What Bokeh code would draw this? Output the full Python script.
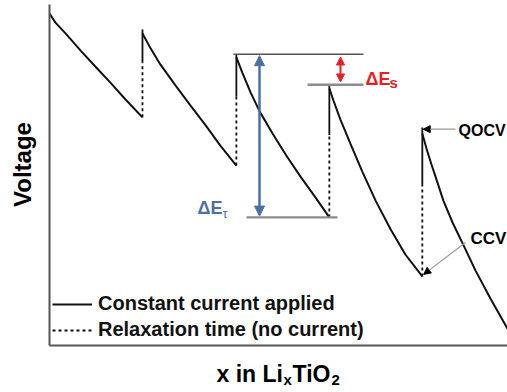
from bokeh.plotting import figure
from bokeh.models import (Range1d, Label, Arrow, NormalHead, FixedTicker,
                          Legend, LegendItem)
from bokeh.embed import file_html
from bokeh.resources import INLINE

# ---- data (schematic GITT curve; x in LixTiO2 and voltage in arbitrary units) ----
seg1_x = [0.000, 0.013, 0.035, 0.068, 0.100, 0.133, 0.166, 0.203]
seg1_v = [0.985, 0.958, 0.926, 0.875, 0.828, 0.780, 0.730, 0.677]
seg2_x = [0.203, 0.221, 0.242, 0.275, 0.308, 0.341, 0.373, 0.408]
seg2_v = [0.926, 0.881, 0.834, 0.772, 0.712, 0.653, 0.593, 0.534]
seg3_x = [0.408, 0.421, 0.439, 0.459, 0.487, 0.517, 0.548, 0.581, 0.611]
seg3_v = [0.855, 0.810, 0.751, 0.694, 0.629, 0.564, 0.501, 0.439, 0.380]
seg4_x = [0.611, 0.620, 0.635, 0.657, 0.683, 0.712, 0.745, 0.777, 0.814]
seg4_v = [0.763, 0.727, 0.671, 0.599, 0.516, 0.430, 0.344, 0.270, 0.205]
seg5_x = [0.814, 0.823, 0.834, 0.847, 0.860, 0.880, 0.902, 0.930, 0.963, 1.000]
seg5_v = [0.629, 0.585, 0.537, 0.484, 0.430, 0.365, 0.303, 0.223, 0.139, 0.050]

relax_x = [0.203, 0.408, 0.611, 0.814]      # relaxation (no current) positions
relax_low = [0.677, 0.534, 0.380, 0.205]    # CCV (end of current pulse)
relax_top = [0.938, 0.864, 0.774, 0.647]    # QOCV (after relaxation)

legend_labels = ["Constant current applied", "Relaxation time (no current)"]

FONT = "Liberation Sans"
BLUE = "#4a70a2"
RED = "#e41f26"
INK = "#111111"

W, H = 507, 392
X0, XR = 49, 458      # pixel of x=0, pixels per x unit
Y0, YR = 345, 337     # pixel of V=0, pixels per V unit


def dx(px):           # picture pixel -> x data (annotation placement only)
    return (px - X0) / XR


def dy(py):           # picture pixel -> V data (annotation placement only)
    return (Y0 - py) / YR


p = figure(width=W, height=H,
           x_range=Range1d(dx(0), dx(W)), y_range=Range1d(dy(H), dy(0)),
           output_backend="svg", toolbar_location=None,
           min_border_left=0, min_border_right=0, min_border_top=0,
           min_border_bottom=0)
p.grid.visible = False
p.outline_line_color = None

p.xaxis.fixed_location = 0
p.xaxis.bounds = (0, 1)
p.yaxis.fixed_location = 0
p.yaxis.bounds = (0, dy(4))
for ax in (p.xaxis[0], p.yaxis[0]):
    ax.ticker = FixedTicker(ticks=[])
    ax.major_tick_line_color = None
    ax.minor_tick_line_color = None
    ax.major_tick_out = 0
    ax.minor_tick_out = 0
    ax.major_label_text_font_size = "0px"
    ax.axis_line_color = "#555555"
    ax.axis_line_width = 2

# ---- curve (constant current segments) ----
r_cc = None
for xs, vs in ((seg1_x, seg1_v), (seg2_x, seg2_v), (seg3_x, seg3_v),
               (seg4_x, seg4_v), (seg5_x, seg5_v)):
    r = p.line(xs, vs, line_color=INK, line_width=2)
    if r_cc is None:
        r_cc = r

# ---- relaxation lines: dashed, with the upper part drawn solid ----
split = [t - 0.38 * (t - b) for t, b in zip(relax_top, relax_low)]
r_rel = p.segment(x0=relax_x, y0=relax_low, x1=relax_x, y1=split,
                  line_color=INK, line_width=1.8, line_dash="3 3")
p.segment(x0=relax_x, y0=split, x1=relax_x, y1=relax_top,
          line_color=INK, line_width=1.8)

# ---- reference lines ----
p.segment(x0=[dx(233)], y0=[relax_top[1]], x1=[dx(363)], y1=[relax_top[1]],
          line_color="#555555", line_width=1.5)
p.segment(x0=[dx(307)], y0=[relax_top[2]], x1=[dx(363)], y1=[relax_top[2]],
          line_color="#8c8c8c", line_width=2.5)
p.segment(x0=[dx(246)], y0=[relax_low[2]], x1=[dx(337)], y1=[relax_low[2]],
          line_color="#8c8c8c", line_width=2.2)

# ---- ΔEτ arrow (blue) and ΔEs arrow (red) ----
p.add_layout(Arrow(x_start=dx(259), y_start=relax_top[1] - 0.004,
                   x_end=dx(259), y_end=relax_low[2] + 0.004,
                   line_color=BLUE, line_width=2.5,
                   start=NormalHead(size=10, fill_color=BLUE, line_color=BLUE),
                   end=NormalHead(size=10, fill_color=BLUE, line_color=BLUE)))
p.add_layout(Arrow(x_start=dx(340), y_start=relax_top[1] - 0.008,
                   x_end=dx(340), y_end=relax_top[2] + 0.008,
                   line_color=RED, line_width=2,
                   start=NormalHead(size=8, fill_color=RED, line_color=RED),
                   end=NormalHead(size=8, fill_color=RED, line_color=RED)))

# ---- QOCV / CCV pointers ----
p.add_layout(Arrow(x_start=dx(455), y_start=relax_top[3] - 0.005,
                   x_end=relax_x[3] + 0.002, y_end=relax_top[3] - 0.005,
                   line_color="#999999", line_width=1.2,
                   end=NormalHead(size=7, fill_color="#000000", line_color="#000000")))
p.add_layout(Arrow(x_start=dx(465), y_start=dy(242),
                   x_end=relax_x[3] + 0.003, y_end=relax_low[3] + 0.006,
                   line_color="#999999", line_width=1.2,
                   end=NormalHead(size=7, fill_color="#000000", line_color="#000000")))


def lab(text, px, py, size, color="#000000", bold=True, baseline="alphabetic",
        align="left", angle=0):
    p.add_layout(Label(x=dx(px), y=dy(py), text=text, text_font=FONT,
                       text_font_size=f"{size}px",
                       text_font_style="bold" if bold else "normal",
                       text_color=color, text_align=align,
                       text_baseline=baseline, angle=angle,
                       angle_units="deg"))


lab("QOCV", 458, 130, 16, baseline="middle")
lab("CCV", 470, 238, 17, baseline="middle")
lab("ΔE", 365, 78, 18, color=RED)
lab("s", 389, 82, 15, color=RED)
lab("ΔE", 197, 207, 18, color=BLUE)
lab("τ", 222, 213, 13, color=BLUE, bold=False)

# y-axis title
lab("Voltage", 21.5, 164, 24, baseline="middle", align="center", angle=90)

# x-axis title with subscripts
lab("x in Li", 216, 373, 23)
lab("x", 283, 379, 15)
lab("TiO", 292, 373, 23)
lab("2", 331, 379, 15)

# ---- legend ----
legend = Legend(items=[LegendItem(label=legend_labels[0], renderers=[r_cc]),
                       LegendItem(label=legend_labels[1], renderers=[r_rel])],
                location=(52, 51), glyph_width=40, glyph_height=20,
                label_standoff=6, padding=0, margin=0, spacing=3,
                border_line_color=None, background_fill_alpha=0,
                label_text_font=FONT, label_text_font_size="20px",
                label_text_font_style="bold", label_text_color=INK)
p.add_layout(legend)

open("out.html", "w").write(file_html(p, INLINE))
